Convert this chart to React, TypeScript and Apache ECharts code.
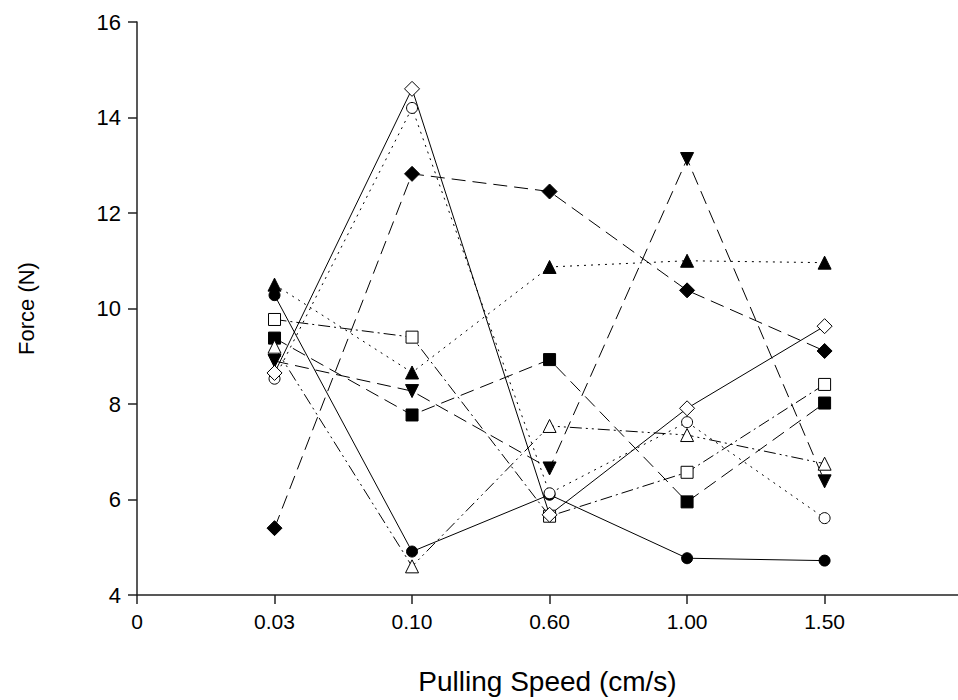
import React, { useEffect, useRef } from "react";
import * as echarts from "echarts";

const xTickLabels = ["0", "0.03", "0.10", "0.60", "1.00", "1.50"];
const xPositions = [1, 2, 3, 4, 5];

const filledCircle = [10.28, 4.91, 6.1, 4.77, 4.72];
const openCircle = [8.53, 14.2, 6.13, 7.62, 5.61];
const filledTriangleUp = [10.5, 8.66, 10.87, 11.0, 10.96];
const openTriangleUp = [9.2, 4.6, 7.54, 7.35, 6.75];
const filledTriangleDown = [8.9, 8.27, 6.65, 13.13, 6.38];
const filledSquare = [9.38, 7.77, 8.93, 5.95, 8.02];
const openSquare = [9.77, 9.4, 5.65, 6.57, 8.41];
const filledDiamond = [5.4, 12.82, 12.45, 10.38, 9.11];
const openDiamond = [8.65, 14.6, 5.68, 7.91, 9.63];

const FONT = "'Liberation Sans', Arial, sans-serif";

function pts(vals: number[]) {
  return vals.map((v, i) => [xPositions[i], v]);
}

function mk(
  name: string,
  vals: number[],
  symbol: string,
  filled: boolean,
  dash: any,
  size: number,
  rotate = 0
) {
  return {
    name,
    type: "line",
    data: pts(vals),
    symbol,
    symbolSize: size,
    symbolRotate: rotate,
    showAllSymbol: true,
    lineStyle: { color: "#000", width: 1, type: dash },
    itemStyle: {
      color: filled ? "#000" : "#fff",
      borderColor: "#000",
      borderWidth: 1,
    },
    emphasis: { disabled: true },
    z: filled ? 2 : 3,
  };
}

export default function App() {
  const ref = useRef<HTMLDivElement>(null);
  useEffect(() => {
    if (!ref.current) return;
    const chart = echarts.init(ref.current, null, { renderer: "svg" });
    chart.setOption({
      animation: false,
      backgroundColor: "#fff",
      textStyle: { fontFamily: FONT },
      grid: { left: 137, top: 22, right: 0, bottom: 96, containLabel: false },
      xAxis: {
        type: "value",
        min: 0,
        max: 5.97,
        interval: 1,
        name: "Pulling Speed (cm/s)",
        nameLocation: "middle",
        nameGap: 72,
        nameTextStyle: { fontSize: 28, color: "#000", fontFamily: FONT },
        axisLine: { lineStyle: { color: "#222", width: 1.5 } },
        axisTick: {
          show: true,
          length: 9,
          inside: false,
          customValues: [0, 1, 2, 3, 4, 5],
          lineStyle: { color: "#222", width: 1.5 },
        },
        axisLabel: {
          customValues: [0, 1, 2, 3, 4, 5],
          formatter: (v: number) => {
            const i = Math.round(v);
            return Math.abs(v - i) < 1e-6 && i >= 0 && i < xTickLabels.length
              ? xTickLabels[i]
              : "";
          },
          fontSize: 21,
          color: "#000",
          margin: 16,
          fontFamily: FONT,
        },
        splitLine: { show: false },
      },
      yAxis: {
        type: "value",
        min: 4,
        max: 16,
        interval: 2,
        name: "Force (N)",
        nameLocation: "middle",
        nameGap: 100,
        nameRotate: 90,
        nameTextStyle: { fontSize: 22, color: "#000", fontFamily: FONT },
        axisLine: { show: true, lineStyle: { color: "#222", width: 1.5 } },
        axisTick: {
          show: true,
          length: 9,
          inside: false,
          lineStyle: { color: "#222", width: 1.5 },
        },
        axisLabel: { fontSize: 22, color: "#000", margin: 16, fontFamily: FONT },
        splitLine: { show: false },
      },
      series: [
        mk("filledCircle", filledCircle, "circle", true, "solid", 11),
        mk("filledTriangleUp", filledTriangleUp, "triangle", true, [2, 5], 13),
        mk("filledTriangleDown", filledTriangleDown, "triangle", true, [14, 7], 13, 180),
        mk("filledSquare", filledSquare, "rect", true, [14, 7], 12),
        mk("filledDiamond", filledDiamond, "diamond", true, [14, 7], 15),
        mk("openTriangleUp", openTriangleUp, "triangle", false, [12, 4, 2, 4, 2, 4], 13),
        mk("openSquare", openSquare, "rect", false, [12, 4, 2, 4], 12),
        mk("openCircle", openCircle, "circle", false, [2, 5], 11),
        mk("openDiamond", openDiamond, "diamond", false, "solid", 15),
      ],
    });
    return () => chart.dispose();
  }, []);
  return (
    <div
      ref={ref}
      style={{ position: "absolute", left: 0, top: 0, width: 958, height: 700 }}
    />
  );
}
